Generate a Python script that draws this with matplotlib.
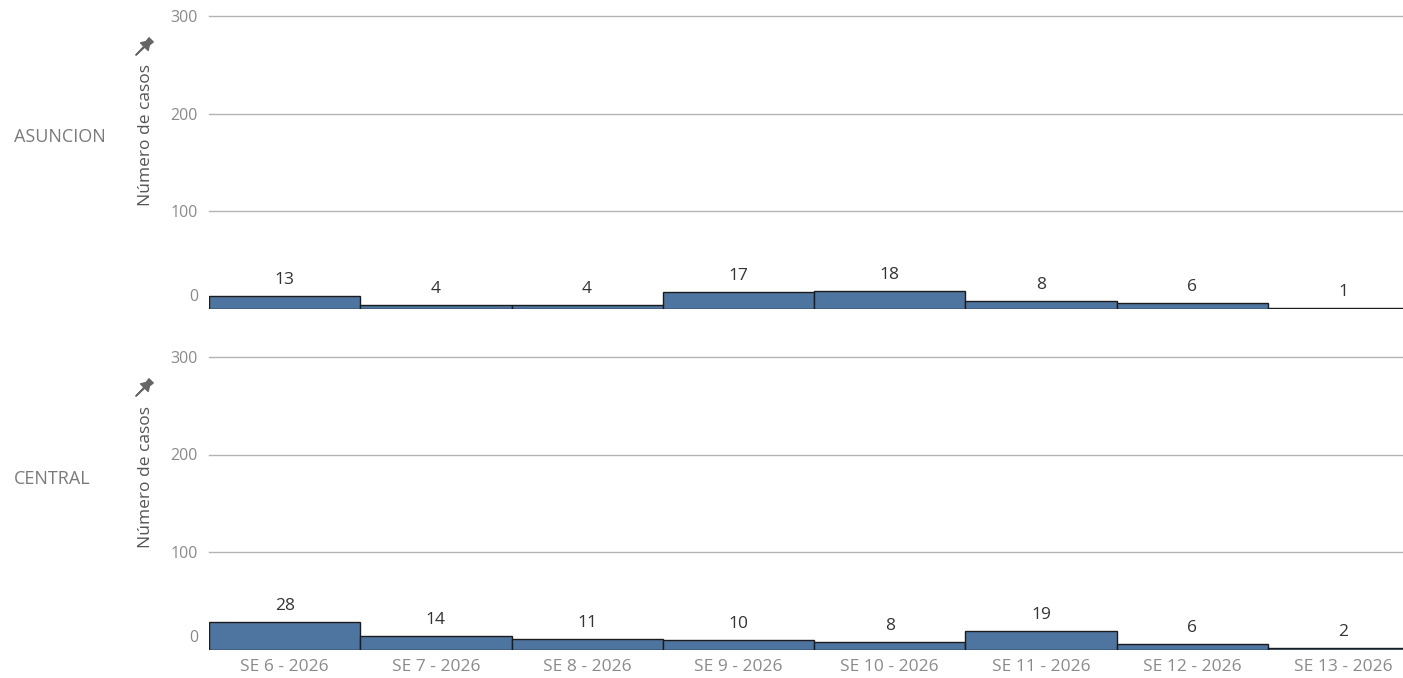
import matplotlib.pyplot as plt
from matplotlib.path import Path
from matplotlib import transforms
import numpy as np

semanas = ['SE 6 - 2026', 'SE 7 - 2026', 'SE 8 - 2026', 'SE 9 - 2026',
           'SE 10 - 2026', 'SE 11 - 2026', 'SE 12 - 2026', 'SE 13 - 2026']
regiones = ['ASUNCION', 'CENTRAL']
casos_asuncion = [13, 4, 4, 17, 18, 8, 6, 1]
casos_central = [28, 14, 11, 10, 8, 19, 6, 2]
y_ticks = [0, 100, 200, 300]

plt.rcParams['font.family'] = ['Open Sans', 'DejaVu Sans']

W, H = 1403, 678
fig = plt.figure(figsize=(W / 100, H / 100), dpi=100)

BAR_COLOR = '#4e74a0'
GRID = '#b4b4b4'
TICK = '#8a8a8a'

# icono de chincheta / pushpin icon (tilted)
pin = Path([(-0.25, 0.9), (0.25, 0.9), (0.2, 0.5), (0.45, 0.1), (-0.45, 0.1), (-0.2, 0.5), (-0.25, 0.9),
            (0.05, 0.1), (0.0, -0.9), (-0.05, 0.1), (0.05, 0.1)],
           [Path.MOVETO] + [Path.LINETO] * 5 + [Path.CLOSEPOLY] + [Path.MOVETO, Path.LINETO, Path.LINETO, Path.CLOSEPOLY])
pin = pin.transformed(transforms.Affine2D().rotate_deg(-45))

paneles = [(casos_asuncion, 308.5, 16.0), (casos_central, 649.5, 357.0)]
left = 209 / W
width = 1210 / W
x = np.arange(len(semanas))

for i, (valores, y0px, y300px) in enumerate(paneles):
    bottom = 1 - y0px / H
    height = (y0px - y300px) / H
    ax = fig.add_axes([left, bottom, width, height])
    ax.bar(x, valores, width=1.0, color=BAR_COLOR, edgecolor='#1c1c1c', linewidth=1.0, zorder=3)
    ax.set_xlim(-0.5, len(semanas) - 0.5)
    ax.set_ylim(0, 300)
    for t in y_ticks[1:]:
        ax.axhline(t, color=GRID, linewidth=1.0, zorder=1, clip_on=False)
    ax.set_yticks(y_ticks)
    ax.set_yticklabels([str(t) for t in y_ticks], color=TICK, fontsize=11.5)
    ax.tick_params(axis='y', length=0, pad=8)
    lbl0 = ax.get_yticklabels()[0]
    lbl0.set_va('bottom')
    lbl0.set_transform(lbl0.get_transform() + transforms.ScaledTranslation(0, 4 / 100, fig.dpi_scale_trans))
    for s in ax.spines.values():
        s.set_visible(False)

    for xi, v in zip(x, valores):
        ax.annotate(str(v), (xi, v), xytext=(0, 11.5), textcoords='offset points',
                    ha='center', va='center', fontsize=12.5, color='#333333')

    if i == 1:
        ax.set_xticks(x)
        ax.set_xticklabels(semanas, color=TICK, fontsize=12.5)
        ax.tick_params(axis='x', length=0, pad=7)
    else:
        ax.set_xticks([])

    # etiqueta de región / region label
    fig.text(14 / W, 1 - (y0px - 171) / H, regiones[i], ha='left', va='center',
             fontsize=13, color='#7a7a7a')
    # título del eje / axis title
    fig.text(146 / W, 1 - (y0px - 173) / H, 'Número de casos', rotation=90,
             ha='center', va='center', fontsize=12.5, color='#555555')
    fig.lines.append(plt.Line2D([143 / W], [1 - (y0px - 262) / H], marker=pin, markersize=14,
                                color='#666666', linestyle='none', transform=fig.transFigure))

fig.savefig('out.png', dpi=100)
